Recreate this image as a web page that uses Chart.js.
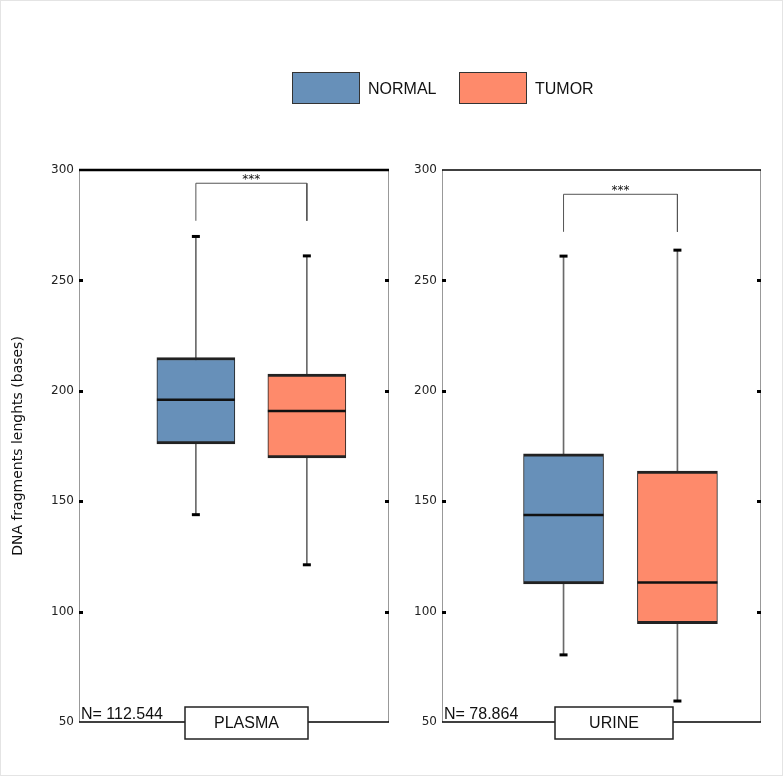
<!DOCTYPE html>
<html>
<head>
<meta charset="utf-8">
<script src="https://cdn.jsdelivr.net/npm/chart.js@4/dist/chart.umd.min.js"></script>
<style>
  html, body { margin: 0; padding: 0; background: #fff; }
  #page { position: relative; width: 781px; height: 774px; border: 1px solid #e4e4e4; overflow: hidden; }
  #page canvas { position: absolute; left: -1px; top: -1px; }
  .leg { position: absolute; font: 16px "Liberation Sans", Arial, sans-serif; color: #111; }
  .leg .sw { position: absolute; width: 66px; height: 30px; border: 1px solid #333; }
  .leg .tx { position: absolute; white-space: nowrap; line-height: 18px; }
</style>
</head>
<body>
<div id="page">
  <canvas id="chartPlasma" width="783" height="776"></canvas>
  <canvas id="chartUrine" width="783" height="776"></canvas>
  <div class="leg" id="legend"></div>
</div>
<script>
const groups = ["NORMAL", "TUMOR"];
const groupColors = ["#6790b9", "#fe8a6b"];
const yTicks = [50, 100, 150, 200, 250, 300];
const yTitle = "DNA fragments lenghts (bases)";

// plasma
const plasmaPos = [0.377, 0.735];
const plasmaLow = [143.9, 121.2];
const plasmaQ1 = [175.9, 169.6];
const plasmaMed = [196.0, 190.8];
const plasmaQ3 = [215.1, 207.6];
const plasmaHigh = [269.9, 261.1];
const plasmaBracket = [277, 294, 294, 277];
const plasmaN = "N= 112.544";

// urine
const urinePos = [0.381, 0.738];
const urineLow = [80.4, 59.5];
const urineQ1 = [112.5, 94.5];
const urineMed = [143.8, 113.2];
const urineQ3 = [171.5, 163.6];
const urineHigh = [261.0, 263.7];
const urineBracket = [272, 289, 289, 272];
const urineN = "N= 78.864";

const stars = "***";

function buildLegend() {
  const leg = document.getElementById("legend");
  const swX = [292, 459];
  leg.innerHTML = groups.map((g, i) => `
    <div class="sw" style="left:${swX[i] - 1}px;top:71px;background:${groupColors[i]}"></div>
    <div class="tx" style="left:${swX[i] + 76 - 1}px;top:79px">${g}</div>
  `).join("");
}

// frame, ticks, N label, panel name box, stars
const panelDecor = {
  id: "panelDecor",
  afterDatasetsDraw(chart, args, opts) {
    const { ctx, chartArea: a, scales } = chart;
    const y = scales.y, x = scales.x;
    ctx.save();
    // sides
    ctx.strokeStyle = "#999";
    ctx.lineWidth = 1;
    ctx.beginPath();
    ctx.moveTo(a.left + 0.5, a.top); ctx.lineTo(a.left + 0.5, a.bottom);
    ctx.moveTo(a.right - 0.5, a.top); ctx.lineTo(a.right - 0.5, a.bottom);
    ctx.stroke();
    // top
    ctx.strokeStyle = "#000";
    ctx.lineWidth = opts.topWidth;
    ctx.beginPath();
    ctx.moveTo(a.left, a.top); ctx.lineTo(a.right, a.top);
    ctx.stroke();
    // bottom
    ctx.lineWidth = 1.5;
    ctx.beginPath();
    ctx.moveTo(a.left, a.bottom); ctx.lineTo(a.right, a.bottom);
    ctx.stroke();
    // inner tick dashes
    ctx.lineWidth = 3;
    y.ticks.forEach(t => {
      if (t.value <= y.min || t.value >= y.max) return;
      const py = Math.round(y.getPixelForValue(t.value)) + 0.5;
      ctx.beginPath();
      ctx.moveTo(a.left, py); ctx.lineTo(a.left + 4, py);
      ctx.moveTo(a.right - 4, py); ctx.lineTo(a.right, py);
      ctx.stroke();
    });
    // stars over bracket
    const bx = (x.getPixelForValue(opts.pos[0]) + x.getPixelForValue(opts.pos[1])) / 2;
    ctx.fillStyle = "#111";
    ctx.font = "12px 'DejaVu Sans'";
    ctx.textAlign = "center";
    ctx.textBaseline = "alphabetic";
    ctx.fillText(stars, bx, y.getPixelForValue(opts.bracketTop));
    // N label
    ctx.font = "16px 'Liberation Sans'";
    ctx.textAlign = "left";
    ctx.fillText(opts.n, a.left + 2, a.bottom - 3);
    // panel name box
    const cx = (a.left + a.right) / 2 + 12.5;
    const w = opts.boxW, h = 32;
    ctx.fillStyle = "#fff";
    ctx.fillRect(cx - w / 2, a.bottom - 15, w, h);
    ctx.strokeStyle = "#222";
    ctx.lineWidth = 1.5;
    ctx.strokeRect(cx - w / 2, a.bottom - 15, w, h);
    ctx.fillStyle = "#111";
    ctx.textAlign = "center";
    ctx.textBaseline = "middle";
    ctx.fillText(opts.name, cx, a.bottom + 1.5);
    ctx.restore();
  }
};

function makePanel(canvasId, name, pos, low, q1, med, q3, high, bracket, n, cfg) {
  const boxes = {
    type: "bar",
    data: pos.map((p, i) => ({ x: p, y: [q1[i], q3[i]] })),
    backgroundColor: groupColors,
    borderColor: "#222",
    borderWidth: { top: 3, bottom: 3, left: 1, right: 1 },
    borderSkipped: false,
    barThickness: cfg.boxW,
    grouped: false,
    order: 2
  };
  const whiskers = {
    type: "bar",
    data: pos.map((p, i) => ({ x: p, y: [low[i], high[i]] })),
    backgroundColor: "#6a6a6a",
    barThickness: 1,
    grouped: false,
    order: 3
  };
  const medians = {
    type: "scatter",
    data: pos.map((p, i) => ({ x: p, y: med[i] })),
    pointStyle: "line",
    radius: cfg.boxW / 2,
    borderColor: "#111",
    borderWidth: 2.5,
    order: 0
  };
  const caps = {
    type: "scatter",
    data: pos.flatMap((p, i) => [{ x: p, y: low[i] }, { x: p, y: high[i] }]),
    pointStyle: "line",
    radius: 4,
    borderColor: "#000",
    borderWidth: 3,
    order: 1
  };
  const bracketLine = {
    type: "line",
    data: [
      { x: pos[0], y: bracket[0] }, { x: pos[0], y: bracket[1] },
      { x: pos[1], y: bracket[2] }, { x: pos[1], y: bracket[3] }
    ],
    borderColor: "#555",
    borderWidth: 1,
    pointRadius: 0,
    tension: 0,
    fill: false,
    order: 4
  };

  return new Chart(document.getElementById(canvasId), {
    type: "bar",
    data: { datasets: [medians, caps, boxes, whiskers, bracketLine] },
    options: {
      responsive: false,
      animation: false,
      events: [],
      layout: { padding: cfg.padding, autoPadding: false },
      plugins: {
        legend: { display: false },
        tooltip: { enabled: false },
        panelDecor: { name, n, pos, bracketTop: bracket[1], topWidth: cfg.topWidth, boxW: cfg.labelW }
      },
      scales: {
        x: { type: "linear", min: 0, max: 1, offset: false, display: false },
        y: {
          min: 50, max: 300,
          afterBuildTicks: s => { s.ticks = yTicks.map(v => ({ value: v })); },
          afterFit: s => { s.width = cfg.axisW; },
          grid: { display: false, drawTicks: false },
          border: { display: false },
          ticks: { padding: 5, color: "#222", font: { family: "DejaVu Sans", size: 12 } },
          title: {
            display: cfg.showTitle,
            text: yTitle,
            color: "#111",
            padding: { top: 10, bottom: 0 },
            font: { family: "DejaVu Sans", size: 14, weight: "normal" }
          }
        }
      }
    },
    plugins: [panelDecor]
  });
}

document.addEventListener("DOMContentLoaded", () => {
  buildLegend();
  makePanel("chartPlasma", "PLASMA", plasmaPos, plasmaLow, plasmaQ1, plasmaMed, plasmaQ3, plasmaHigh, plasmaBracket, plasmaN,
    { boxW: 78, labelW: 123, topWidth: 2.5, axisW: 79, showTitle: true, padding: { left: 0, right: 394, top: 170, bottom: 54 } });
  makePanel("chartUrine", "URINE", urinePos, urineLow, urineQ1, urineMed, urineQ3, urineHigh, urineBracket, urineN,
    { boxW: 80, labelW: 118, topWidth: 1.5, axisW: 40, showTitle: false, padding: { left: 402, right: 22, top: 170, bottom: 54 } });
});
</script>
</body>
</html>
